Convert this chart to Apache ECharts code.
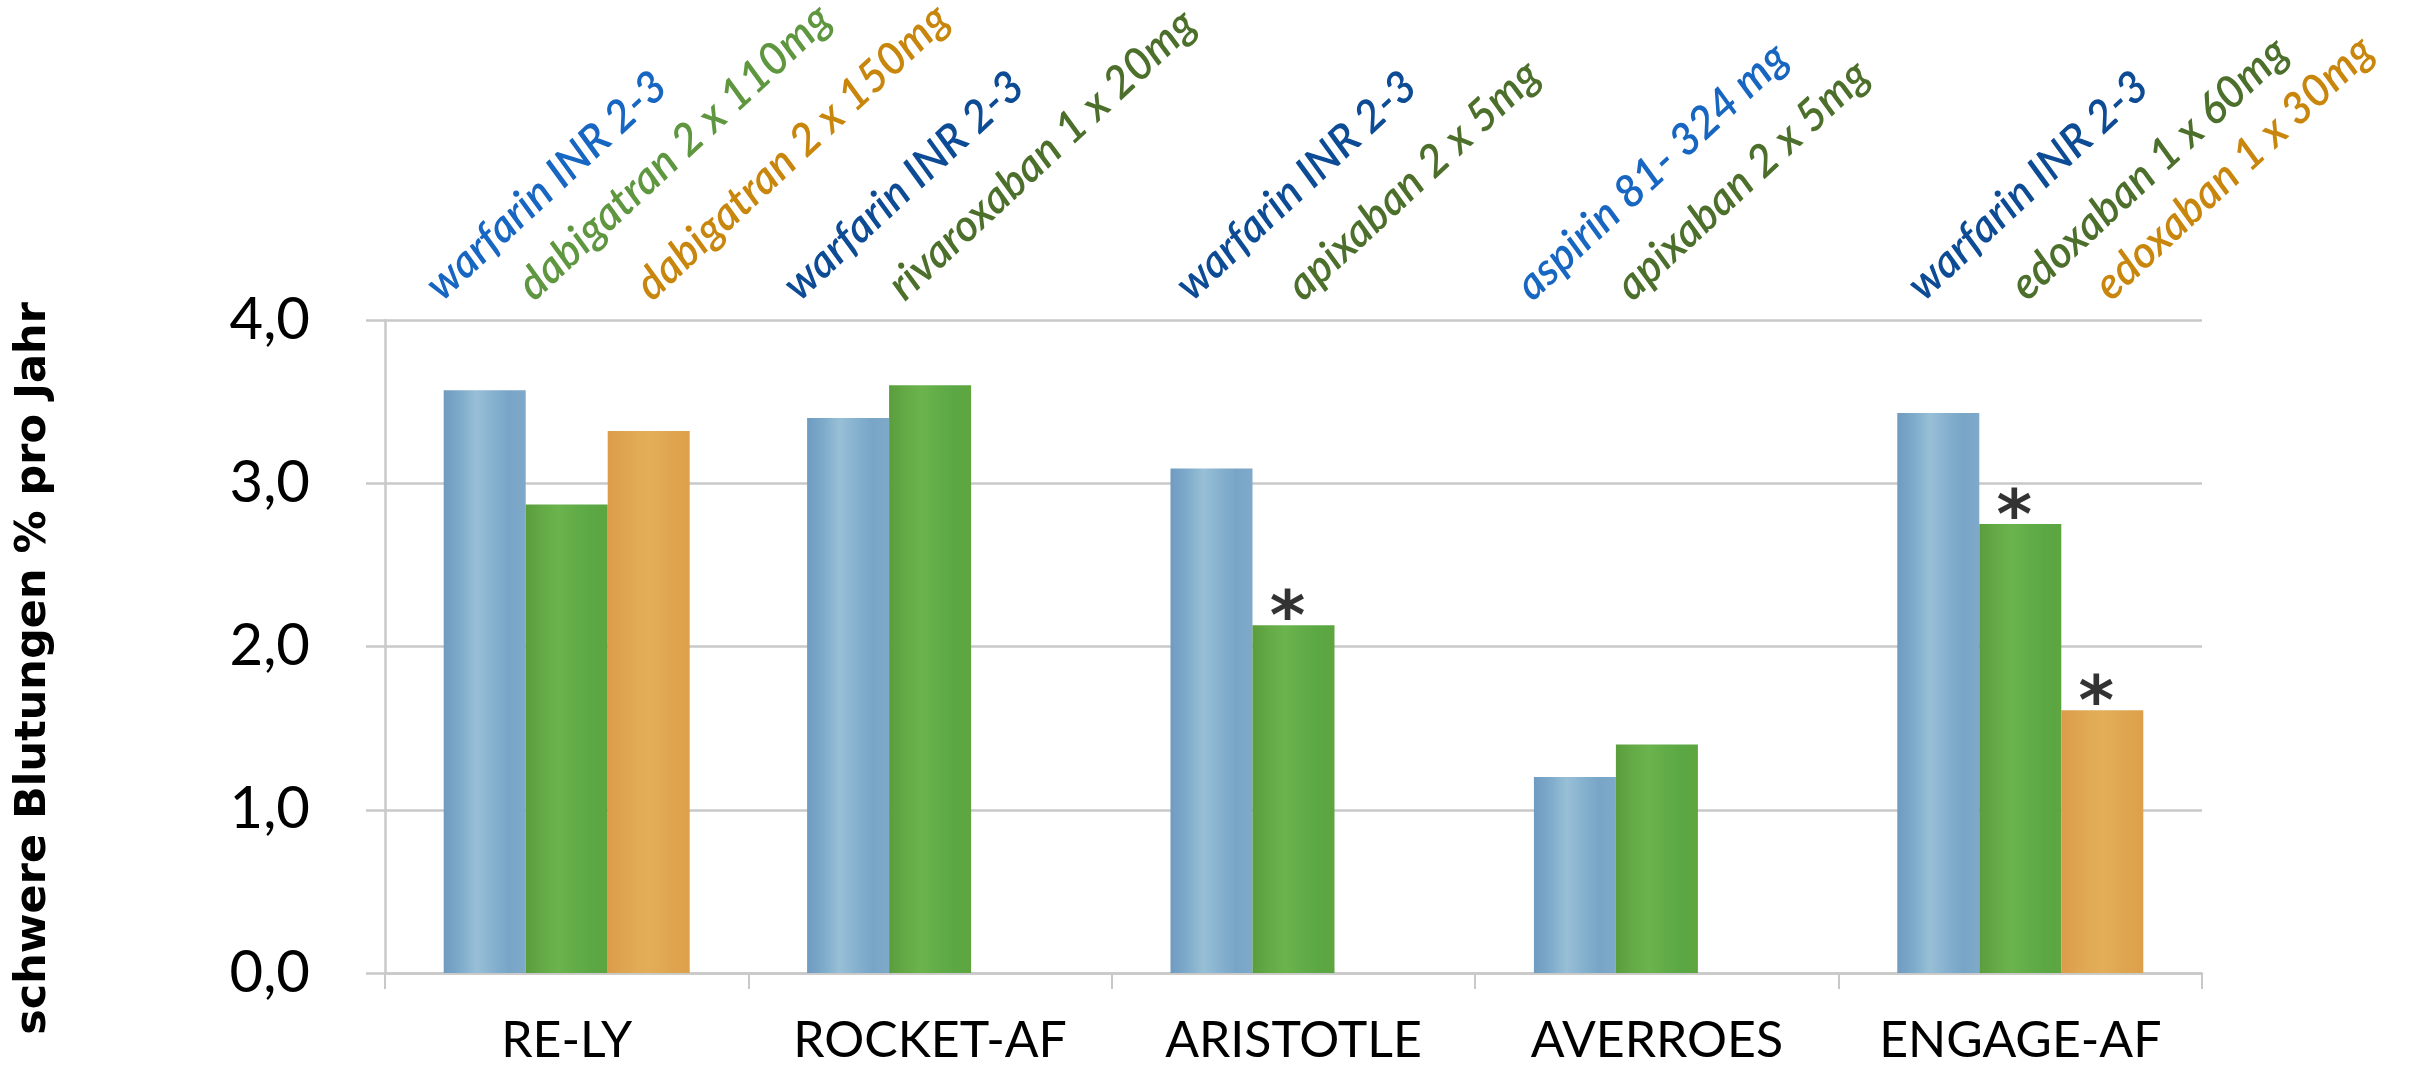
<!DOCTYPE html>
<html>
<head>
<meta charset="utf-8">
<title>schwere Blutungen</title>
<script src="https://cdn.jsdelivr.net/npm/echarts@6/dist/echarts.min.js"></script>
<style>
  html, body { margin: 0; padding: 0; background: #ffffff; }
  #chart { width: 2413px; height: 1067px; }
</style>
</head>
<body>
<div id="chart"></div>
<script>
// Studies on the x axis
const categories = ['RE-LY', 'ROCKET-AF', 'ARISTOTLE', 'AVERROES', 'ENGAGE-AF'];

// Major bleeding, % per year: control arm, first study drug, second study drug
const controlValues = [3.57, 3.40, 3.09, 1.20, 3.43];
const drugAValues   = [2.87, 3.60, 2.13, 1.40, 2.75];
const drugBValues   = [3.32, null, null, null, 1.61];

// Arm names written above the bars
const controlNames = ['warfarin INR 2-3', 'warfarin INR 2-3', 'warfarin INR 2-3', 'aspirin 81- 324 mg', 'warfarin INR 2-3'];
const drugANames   = ['dabigatran 2 x 110mg', 'rivaroxaban 1 x 20mg', 'apixaban 2 x 5mg', 'apixaban 2 x 5mg', 'edoxaban 1 x 60mg'];
const drugBNames   = ['dabigatran 2 x 150mg', '', '', '', 'edoxaban 1 x 30mg'];

// Statistically significant difference vs. control (marked with *)
const drugASignificant = [false, false, true, false, true];
const drugBSignificant = [false, false, false, false, true];

// Y axis tick labels
const yTickLabels = ['0,0', '1,0', '2,0', '3,0', '4,0'];

// ---- styles ----
const FONT = 'Lato, "Open Sans", sans-serif';
const GRID = { left: 385, right: 211, top: 320, bottom: 94 };
const BAR_W = 82;
const AXIS_GREY = '#c9c9c9';

const controlTextColors = ['#1766c2', '#0d4b95', '#0d4b95', '#1766c2', '#0d4b95'];
const drugATextColors   = ['#5f9640', '#4c6f2b', '#4c6f2b', '#4c6f2b', '#4c6f2b'];
const drugBTextColors   = ['#c8860d', '#c8860d', '#c8860d', '#c8860d', '#c8860d'];

// Horizontal nudge (px) of each rotated arm name from its bar's left edge
const controlNameShift = [4, -2, 27, 4, 32];
const drugANameShift   = [14, 21, 56, 22, 53];
const drugBNameShift   = [50, 0, 0, 0, 55];

function hGrad(stops) {
  return new echarts.graphic.LinearGradient(0, 0, 1, 0,
    stops.map(function (c, i) { return { offset: i / (stops.length - 1), color: c }; }));
}
const blueFill   = hGrad(['#6e9bbf', '#7eabcb', '#98bfd6', '#86b1cf', '#78a5c7', '#7fa9c9']);
const greenFill  = hGrad(['#5a9d3d', '#64aa46', '#6bb44d', '#62ad48', '#5aa845', '#5ea53f']);
const orangeFill = hGrad(['#dc9c4b', '#e0a752', '#e3ae58', '#dfa64f', '#dea04a']);

function barData(values, names, colors) {
  return values.map(function (v, i) {
    return {
      value: v,
      label: { show: v != null && names[i] !== '', formatter: names[i], color: colors[i] }
    };
  });
}

// Arm names: rotated, starting just above the top grid line, aligned to each bar
function nameLayout(shifts) {
  return function (p) {
    return {
      x: p.rect.x + shifts[p.dataIndex],
      y: GRID.top - 12,
      rotate: 43,
      align: 'left',
      verticalAlign: 'bottom',
      hideOverlap: false
    };
  };
}

function starData(values, flags) {
  const out = [];
  values.forEach(function (v, i) { if (flags[i] && v != null) out.push([i, v]); });
  return out;
}

const nameLabel = {
  show: true,
  fontFamily: FONT,
  fontStyle: 'italic',
  fontWeight: 600,
  fontSize: 44
};

function starSeries(data, dx) {
  return {
    type: 'scatter',
    data: data,
    symbolSize: 1,
    itemStyle: { color: 'transparent' },
    silent: true,
    z: 5,
    label: {
      show: true,
      position: 'top',
      formatter: '*',
      fontFamily: '"DejaVu Sans", sans-serif',
      fontWeight: 'bold',
      fontSize: 68,
      lineHeight: 68,
      color: '#000000',
      distance: 0,
      offset: [dx - 6, 31]
    }
  };
}

const chart = echarts.init(document.getElementById('chart'), null, { renderer: 'canvas' });
chart.setOption({
  animation: false,
  backgroundColor: '#ffffff',
  grid: { left: GRID.left, right: GRID.right, top: GRID.top, bottom: GRID.bottom, containLabel: false },
  xAxis: {
    type: 'category',
    data: categories,
    axisLine: { show: true, lineStyle: { color: AXIS_GREY, width: 2.5 } },
    axisTick: { show: true, length: 16, lineStyle: { color: AXIS_GREY, width: 2 } },
    axisLabel: { interval: 0, fontFamily: FONT, fontSize: 50, lineHeight: 50, color: '#000000', margin: 43 }
  },
  yAxis: {
    type: 'value',
    min: 0,
    max: 4,
    interval: 1,
    name: 'schwere Blutungen % pro Jahr',
    nameLocation: 'middle',
    nameRotate: 90,
    nameGap: 330,
    nameTextStyle: {
      fontFamily: '"Comic Sans MS", "DejaVu Sans", sans-serif',
      fontWeight: 'bold',
      fontSize: 43,
      color: '#000000',
      padding: [0, 44, 0, 0]
    },
    axisLine: { show: true, lineStyle: { color: AXIS_GREY, width: 2.5 } },
    axisTick: { show: true, length: 19, lineStyle: { color: AXIS_GREY, width: 2.5 } },
    splitLine: { show: true, lineStyle: { color: AXIS_GREY, width: 2.5 } },
    axisLabel: {
      fontFamily: FONT,
      fontSize: 58,
      color: '#000000',
      margin: 75,
      formatter: function (v) { return yTickLabels[Math.round(v)]; }
    }
  },
  series: [
    {
      name: 'Kontrolle',
      type: 'bar',
      barWidth: BAR_W,
      barGap: '0%',
      itemStyle: { color: blueFill },
      data: barData(controlValues, controlNames, controlTextColors),
      label: nameLabel,
      labelLayout: nameLayout(controlNameShift)
    },
    {
      name: 'Substanz A',
      type: 'bar',
      barWidth: BAR_W,
      barGap: '0%',
      itemStyle: { color: greenFill },
      data: barData(drugAValues, drugANames, drugATextColors),
      label: nameLabel,
      labelLayout: nameLayout(drugANameShift)
    },
    {
      name: 'Substanz B',
      type: 'bar',
      barWidth: BAR_W,
      barGap: '0%',
      itemStyle: { color: orangeFill },
      data: barData(drugBValues, drugBNames, drugBTextColors),
      label: nameLabel,
      labelLayout: nameLayout(drugBNameShift)
    },
    starSeries(starData(drugAValues, drugASignificant), 0),
    starSeries(starData(drugBValues, drugBSignificant), BAR_W)
  ]
});
</script>
</body>
</html>
